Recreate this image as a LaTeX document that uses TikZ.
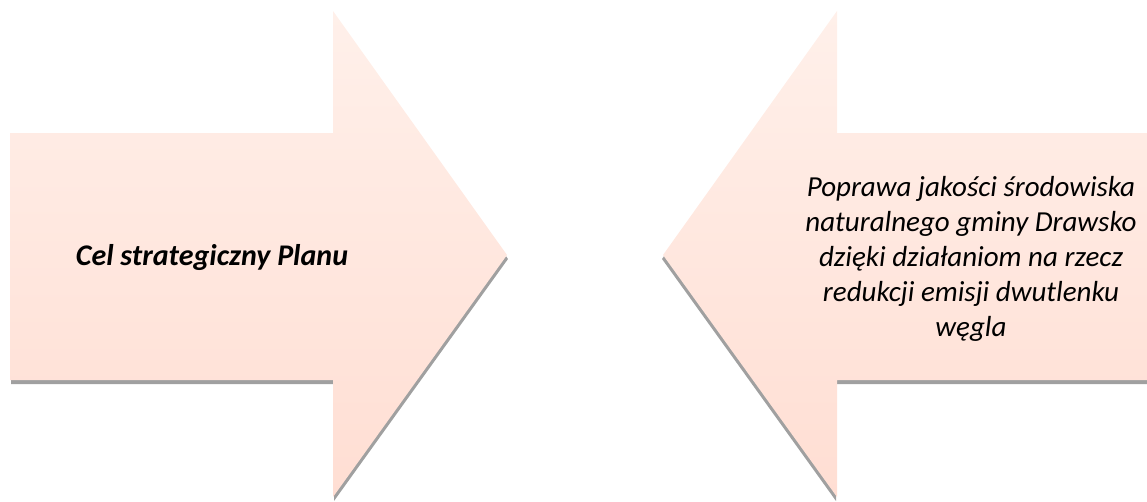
\documentclass[tikz,border=0pt]{standalone}
\usepackage{fontspec}
\setmainfont{Carlito}
\definecolor{shadowgray}{HTML}{A0A0A0}
\definecolor{filltop}{HTML}{FFF0EA}
\definecolor{fillbot}{HTML}{FFDED3}
\tikzset{
  arrowshape/.style={top color=filltop, bottom color=fillbot, draw=none},
  arrowshadow/.style={fill=shadowgray, draw=none},
  lbl/.style={font=\fontsize{29}{35}\selectfont\itshape, align=center, inner sep=0pt}
}
\begin{document}
\begin{tikzpicture}[x=1pt,y=-1pt]
\useasboundingbox (0,0) rectangle (1147,501);
\clip (0,0) rectangle (1147,501);
% left arrow
\fill[arrowshadow] (11,137) -- (334,137) -- (334,15) -- (508,259) -- (334,501) -- (334,384) -- (11,384) -- cycle;
\path[arrowshape] (10,133) -- (333,133) -- (333,11) -- (507,255) -- (333,497) -- (333,380) -- (10,380) -- cycle;
% right arrow
\fill[arrowshadow] (1159,137) -- (836,137) -- (836,15) -- (662,259) -- (836,501) -- (836,384) -- (1159,384) -- cycle;
\path[arrowshape] (1160,133) -- (837,133) -- (837,11) -- (663,255) -- (837,497) -- (837,380) -- (1160,380) -- cycle;
\node[lbl, font=\fontsize{30}{36}\selectfont\bfseries\itshape, anchor=base] (goal) at (212,265) {Cel strategiczny Planu};
\node[lbl] (aim) at (971,259) {Poprawa jakości środowiska\\naturalnego gminy Drawsko\\dzięki działaniom na rzecz\\redukcji emisji dwutlenku\\węgla};
\end{tikzpicture}
\end{document}
